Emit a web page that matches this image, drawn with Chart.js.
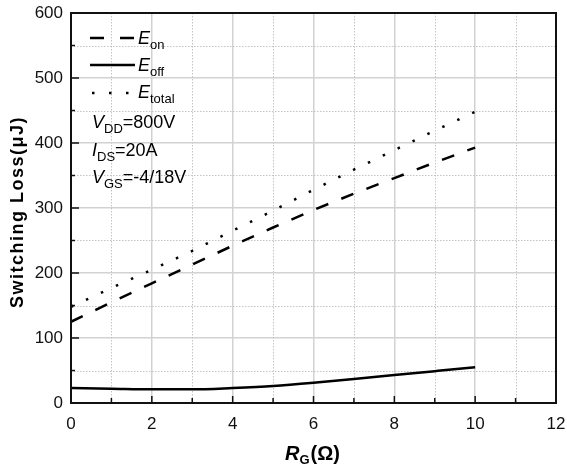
<!DOCTYPE html>
<html>
<head>
<meta charset="utf-8">
<script src="https://cdn.jsdelivr.net/npm/chart.js@4.4.1/dist/chart.umd.min.js"></script>
<style>
  html, body { margin: 0; padding: 0; background: #fff; }
  #wrap { width: 567px; height: 472px; position: relative; }
</style>
</head>
<body>
<div id="wrap"><canvas id="lossChart"></canvas></div>
<script>
// gate resistance (ohm) and switching losses (uJ)
const rgValues = [0, 1, 2, 3, 4, 5, 6, 7, 8, 9, 10];
const eonValues = [125, 155, 184, 213, 242, 270, 297, 322, 346, 370, 393];
const eoffValues = [23, 22, 21, 21, 23, 26, 31, 37, 43, 49, 55];
const etotalValues = [148, 177, 205, 234, 265, 296, 328, 359, 389, 419, 448];

const xTicks = [0, 2, 4, 6, 8, 10, 12];
const yTicks = [0, 100, 200, 300, 400, 500, 600];
const conditions = [
    ['V', 'DD', '=800V'],
    ['I', 'DS', '=20A'],
    ['V', 'GS', '=-4/18V']
];

const FONT = "'Liberation Sans', Arial, sans-serif";

const toPoints = (vals) => vals.map((v, i) => ({ x: rgValues[i], y: v }));

// minor grid, inward ticks, frame, titles and legend text
const decorPlugin = {
    id: 'decor',
    beforeDatasetsDraw(chart) {
        const { ctx, chartArea: a, scales: { x, y } } = chart;
        ctx.save();
        ctx.strokeStyle = '#c4c4c4';
        ctx.lineWidth = 1;
        ctx.setLineDash([1.5, 1.5]);
        for (let v = 1; v < 12; v += 2) {
            const px = Math.round(x.getPixelForValue(v)) + 0.5;
            ctx.beginPath(); ctx.moveTo(px, a.top); ctx.lineTo(px, a.bottom); ctx.stroke();
        }
        for (let v = 50; v < 600; v += 100) {
            const py = Math.round(y.getPixelForValue(v)) + 0.5;
            ctx.beginPath(); ctx.moveTo(a.left, py); ctx.lineTo(a.right, py); ctx.stroke();
        }
        ctx.restore();
    },
    afterDatasetsDraw(chart) {
        const { ctx, chartArea: a, scales: { x, y } } = chart;
        ctx.save();
        ctx.strokeStyle = '#111';
        ctx.lineWidth = 2;
        ctx.strokeRect(a.left, a.top, a.right - a.left, a.bottom - a.top);

        // inward ticks
        ctx.lineWidth = 1.5;
        for (let v = 1; v < 12; v++) {
            const px = x.getPixelForValue(v);
            const len = v % 2 === 0 ? 7 : 5;
            ctx.beginPath(); ctx.moveTo(px, a.bottom); ctx.lineTo(px, a.bottom - len); ctx.stroke();
        }
        for (let v = 50; v < 600; v += 50) {
            const py = y.getPixelForValue(v);
            const len = v % 100 === 0 ? 8 : 4;
            ctx.beginPath(); ctx.moveTo(a.left, py); ctx.lineTo(a.left + len, py); ctx.stroke();
        }

        // legend samples
        const lx0 = 90, lx1 = 135;
        ctx.strokeStyle = '#000';
        ctx.lineWidth = 2.5;
        ctx.setLineDash([14, 16]);
        ctx.beginPath(); ctx.moveTo(lx0, 38); ctx.lineTo(lx1, 38); ctx.stroke();
        ctx.setLineDash([]);
        ctx.beginPath(); ctx.moveTo(lx0, 65); ctx.lineTo(lx1, 65); ctx.stroke();
        ctx.setLineDash([2.5, 14.5]);
        ctx.beginPath(); ctx.moveTo(lx0 + 2, 93); ctx.lineTo(lx1, 93); ctx.stroke();
        ctx.setLineDash([]);

        ctx.fillStyle = '#000';
        ctx.textBaseline = 'alphabetic';
        ctx.textAlign = 'left';
        const drawSub = (main, sub, rest, xPos, base, italic) => {
            ctx.font = (italic ? 'italic ' : '') + '18px ' + FONT;
            ctx.fillText(main, xPos, base);
            let cx = xPos + ctx.measureText(main).width;
            ctx.font = '13px ' + FONT;
            ctx.fillText(sub, cx, base + 5);
            cx += ctx.measureText(sub).width;
            if (rest) {
                ctx.font = '18px ' + FONT;
                ctx.fillText(rest, cx, base);
            }
        };
        drawSub('E', 'on', '', 138, 44, true);
        drawSub('E', 'off', '', 138, 71, true);
        drawSub('E', 'total', '', 138, 98, true);
        conditions.forEach((c, i) => {
            drawSub(c[0], c[1], c[2], 92, 128 + i * 27.5, true);
        });

        // y title
        ctx.save();
        ctx.translate(23, 212);
        ctx.rotate(-Math.PI / 2);
        ctx.textAlign = 'center';
        ctx.font = 'bold 18px ' + FONT;
        ctx.letterSpacing = '1.5px';
        ctx.fillText('Switching Loss(\u03bcJ)', 0, 0);
        ctx.restore();

        // x title
        let tx = 285;
        const tb = 460;
        ctx.font = 'italic bold 20px ' + FONT;
        ctx.fillText('R', tx, tb);
        tx += ctx.measureText('R').width;
        ctx.font = 'bold 13px ' + FONT;
        ctx.fillText('G', tx, tb + 4);
        tx += ctx.measureText('G').width + 1;
        ctx.font = 'bold 20px ' + FONT;
        ctx.fillText('(\u03a9)', tx, tb);
        ctx.restore();
    }
};

new Chart(document.getElementById('lossChart'), {
    type: 'line',
    data: {
        datasets: [
            {
                label: 'Eon',
                data: toPoints(eonValues),
                borderColor: '#000',
                borderWidth: 2.5,
                borderDash: [13, 14],
                pointRadius: 0,
                fill: false
            },
            {
                label: 'Eoff',
                data: toPoints(eoffValues),
                borderColor: '#000',
                borderWidth: 2.5,
                cubicInterpolationMode: 'monotone',
                pointRadius: 0,
                fill: false
            },
            {
                label: 'Etotal',
                data: toPoints(etotalValues),
                borderColor: '#000',
                borderWidth: 2.5,
                borderDash: [2.5, 14],
                pointRadius: 0,
                fill: false
            }
        ]
    },
    options: {
        responsive: true,
        maintainAspectRatio: false,
        animation: false,
        layout: { padding: 0 },
        plugins: {
            legend: { display: false },
            tooltip: { enabled: false }
        },
        scales: {
            x: {
                type: 'linear',
                min: 0,
                max: 12,
                afterFit: (s) => { s.height = 69; s.paddingLeft = 0; s.paddingRight = 11; },
                afterBuildTicks: (s) => { s.ticks = xTicks.map(v => ({ value: v })); },
                grid: { color: '#d2d2d2', lineWidth: 1.5, drawTicks: false },
                border: { display: false },
                ticks: { padding: 11, color: '#111', font: { family: FONT, size: 17 }, maxRotation: 0 }
            },
            y: {
                min: 0,
                max: 600,
                afterFit: (s) => { s.width = 71; s.paddingTop = 13; s.paddingBottom = 0; },
                afterBuildTicks: (s) => { s.ticks = yTicks.map(v => ({ value: v })); },
                grid: { color: '#d2d2d2', lineWidth: 1.5, drawTicks: false },
                border: { display: false },
                ticks: { padding: 8, color: '#111', font: { family: FONT, size: 17 } }
            }
        }
    },
    plugins: [decorPlugin]
});
</script>
</body>
</html>
